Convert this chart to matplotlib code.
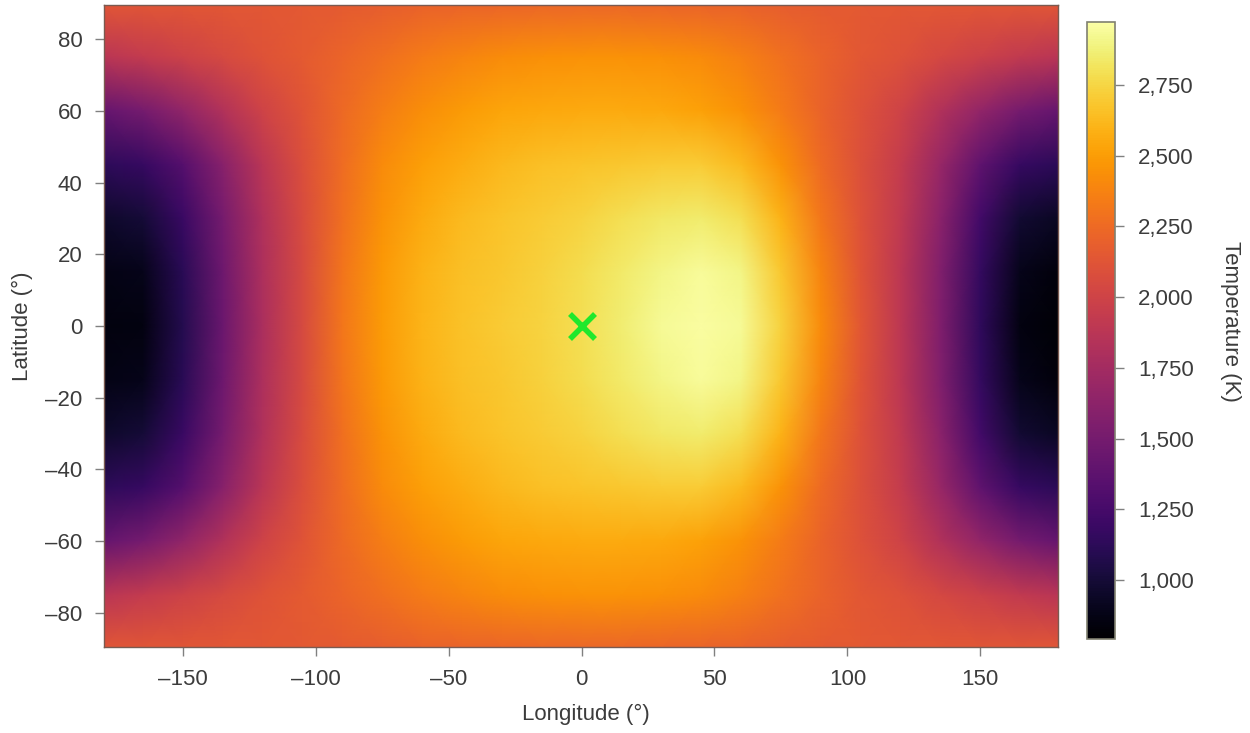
import numpy as np
import matplotlib
matplotlib.use("Agg")
import matplotlib.pyplot as plt
from matplotlib.ticker import FuncFormatter

plt.rcParams['font.family'] = ['Liberation Sans', 'DejaVu Sans']

# temperature, K
lons = [-180, -165, -150, -135, -120, -105, -90, -75, -60, -45, -30, -15, 0,
        15, 30, 45, 60, 75, 90, 105, 120, 135, 150, 165, 180]
lats = [90, 75, 60, 45, 30, 15, 0, -15, -30, -45, -60, -75, -90]
temp_n90 = [2130, 2130, 2130, 2140, 2140, 2150, 2160, 2180, 2200, 2210, 2220, 2230, 2230,
            2230, 2220, 2210, 2200, 2180, 2160, 2150, 2140, 2140, 2130, 2130, 2130]
temp_n75 = [1880, 1930, 1990, 2050, 2110, 2160, 2220, 2280, 2340, 2380, 2420, 2440, 2450,
            2450, 2440, 2410, 2360, 2290, 2210, 2140, 2100, 2040, 1980, 1920, 1870]
temp_n60 = [1420, 1500, 1650, 1830, 2000, 2120, 2240, 2350, 2430, 2490, 2530, 2550, 2560,
            2560, 2550, 2520, 2450, 2340, 2210, 2100, 2000, 1830, 1660, 1500, 1420]
temp_n45 = [1130, 1170, 1330, 1600, 1880, 2080, 2260, 2410, 2510, 2570, 2620, 2650, 2670,
            2690, 2700, 2700, 2630, 2450, 2250, 2090, 1940, 1680, 1380, 1170, 1120]
temp_n30 = [960, 1000, 1190, 1500, 1820, 2060, 2280, 2450, 2560, 2630, 2670, 2700, 2740,
            2790, 2830, 2850, 2790, 2590, 2310, 2100, 1910, 1610, 1230, 980, 920]
temp_n15 = [870, 890, 1110, 1460, 1800, 2050, 2300, 2480, 2590, 2650, 2690, 2730, 2780,
            2840, 2900, 2940, 2900, 2690, 2380, 2120, 1890, 1560, 1160, 890, 830]
temp_eq = [850, 860, 1090, 1440, 1790, 2050, 2310, 2490, 2600, 2660, 2700, 2740, 2790,
           2860, 2930, 2960, 2930, 2730, 2410, 2130, 1890, 1550, 1140, 860, 810]
temp_s15 = [870, 890, 1110, 1460, 1800, 2050, 2300, 2480, 2590, 2650, 2690, 2730, 2780,
            2840, 2900, 2940, 2900, 2690, 2380, 2120, 1890, 1560, 1160, 890, 830]
temp_s30 = [960, 1000, 1190, 1500, 1820, 2060, 2280, 2450, 2560, 2630, 2670, 2700, 2740,
            2790, 2830, 2850, 2790, 2590, 2310, 2100, 1910, 1610, 1230, 980, 920]
temp_s45 = [1130, 1170, 1330, 1600, 1880, 2080, 2260, 2410, 2510, 2570, 2620, 2650, 2670,
            2690, 2700, 2700, 2630, 2450, 2250, 2090, 1940, 1680, 1380, 1170, 1120]
temp_s60 = [1420, 1500, 1650, 1830, 2000, 2120, 2240, 2350, 2430, 2490, 2530, 2550, 2560,
            2560, 2550, 2520, 2450, 2340, 2210, 2100, 2000, 1830, 1660, 1500, 1420]
temp_s75 = [1880, 1930, 1990, 2050, 2110, 2160, 2220, 2280, 2340, 2380, 2420, 2440, 2450,
            2450, 2440, 2410, 2360, 2290, 2210, 2140, 2100, 2040, 1980, 1920, 1870]
temp_s90 = [2130, 2130, 2130, 2140, 2140, 2150, 2160, 2180, 2200, 2210, 2220, 2230, 2230,
            2230, 2220, 2210, 2200, 2180, 2160, 2150, 2140, 2140, 2130, 2130, 2130]
temp_rows = [temp_n90, temp_n75, temp_n60, temp_n45, temp_n30, temp_n15, temp_eq,
             temp_s15, temp_s30, temp_s45, temp_s60, temp_s75, temp_s90]
x_ticks = [-150, -100, -50, 0, 50, 100, 150]
y_ticks = [-80, -60, -40, -20, 0, 20, 40, 60, 80]
cbar_ticks = [1000, 1250, 1500, 1750, 2000, 2250, 2500, 2750]
t_min = 792
t_max = 2972
substellar_lon = 0
substellar_lat = 0

W, H = 1250, 733
fig = plt.figure(figsize=(W / 100, H / 100), dpi=100)
ax = fig.add_axes([104 / W, 1 - 647 / H, (1058 - 104) / W, (647 - 5) / H])
cax = fig.add_axes([1087 / W, 1 - 639 / H, (1115 - 1087) / W, (639 - 22) / H])

mesh = ax.pcolormesh(lons, lats, np.array(temp_rows), cmap='inferno', vmin=t_min, vmax=t_max,
                     shading='gouraud', rasterized=True)
ax.plot(substellar_lon, substellar_lat, marker='x', color='#1fe82c', ms=18, mew=4, ls='none')
ax.set_xlim(-179.6, 179.2)
ax.set_ylim(-89.5, 89.5)

tc = '#3c3c3c'
fs = 16
ax.set_xticks(x_ticks)
ax.set_yticks(y_ticks)
ax.xaxis.set_major_formatter(FuncFormatter(lambda v, p: f"{v:.0f}".replace('-', '\u2013')))
ax.yaxis.set_major_formatter(FuncFormatter(lambda v, p: f"{v:.0f}".replace('-', '\u2013')))
ax.tick_params(length=6.5, width=1, color='#808080', labelcolor=tc, labelsize=fs, pad=9)
ax.set_xlabel("Longitude (\u00b0)", fontsize=fs, color=tc, labelpad=10, x=0.505)
ax.set_ylabel("Latitude (\u00b0)", fontsize=fs, color=tc, labelpad=9)
for s in ax.spines.values():
    s.set_color('#7a5a50')
    s.set_linewidth(1)

cb = fig.colorbar(mesh, cax=cax)
cb.set_ticks(cbar_ticks)
cb.ax.yaxis.set_major_formatter(FuncFormatter(lambda v, p: f"{v:,.0f}"))
cb.ax.tick_params(length=6.5, width=1, color='#808080', labelcolor=tc, labelsize=fs, pad=10)
cb.outline.set_edgecolor('#808070')
cb.outline.set_linewidth(1.2)
cb.set_label("Temperature (K)", rotation=270, fontsize=fs, color=tc, labelpad=34, y=0.515)

fig.savefig("out.png", dpi=100)
